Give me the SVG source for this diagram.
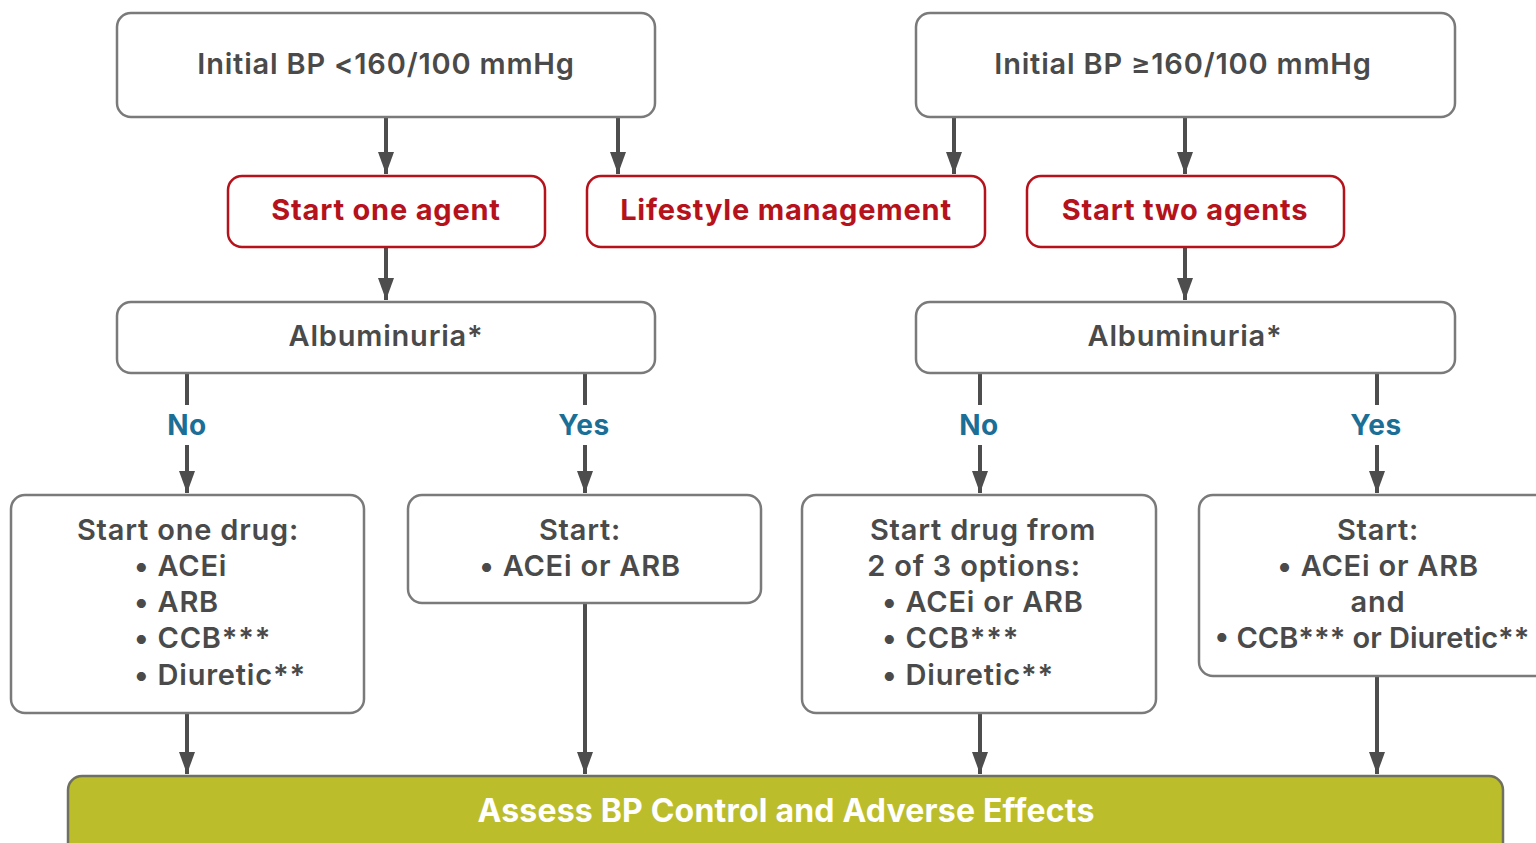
<svg xmlns="http://www.w3.org/2000/svg" width="1536" height="843" viewBox="0 0 1536 843">
<defs>
<marker id="ah" markerWidth="22" markerHeight="16" refX="22" refY="8" orient="auto" markerUnits="userSpaceOnUse" viewBox="0 0 22 16">
<path d="M0,0 L22,8 L0,16 Z" fill="#4d4d4d"/>
</marker>
<style>
.box{fill:#fff;stroke:#7a7a7a;stroke-width:2.5}
.rbox{fill:#fff;stroke:#b5121b;stroke-width:2.5}
.t{font-family:Inter,"Open Sans",sans-serif;font-weight:600;font-size:29px;letter-spacing:0.8px;fill:#4a4a4a;text-anchor:middle}
.s{text-anchor:start}
.n{letter-spacing:0px}
.r{font-family:Inter,"Open Sans",sans-serif;font-weight:700;font-size:29px;letter-spacing:0.8px;fill:#b5121b;text-anchor:middle}
.b{font-family:Inter,"Open Sans",sans-serif;font-weight:700;font-size:28px;letter-spacing:0.5px;fill:#1b6f96;text-anchor:middle}
.w{font-family:Inter,"Open Sans",sans-serif;font-weight:700;font-size:32px;letter-spacing:0.2px;fill:#fff;text-anchor:middle}
.c{stroke:#4d4d4d;stroke-width:4;fill:none}
</style>
</defs>
<rect width="1536" height="843" fill="#fff"/>
<g id="connectors">
<path class="c" d="M386,117 V174" marker-end="url(#ah)"/>
<path class="c" d="M618,117 V174" marker-end="url(#ah)"/>
<path class="c" d="M954,117 V174" marker-end="url(#ah)"/>
<path class="c" d="M1185,117 V174" marker-end="url(#ah)"/>
<path class="c" d="M386,247 V300" marker-end="url(#ah)"/>
<path class="c" d="M1185,247 V300" marker-end="url(#ah)"/>
<path class="c" d="M187,373 V405"/>
<path class="c" d="M187,445 V493" marker-end="url(#ah)"/>
<path class="c" d="M585,373 V405"/>
<path class="c" d="M585,445 V493" marker-end="url(#ah)"/>
<path class="c" d="M980,373 V405"/>
<path class="c" d="M980,445 V493" marker-end="url(#ah)"/>
<path class="c" d="M1377,373 V405"/>
<path class="c" d="M1377,445 V493" marker-end="url(#ah)"/>
<path class="c" d="M187,713 V774" marker-end="url(#ah)"/>
<path class="c" d="M585,603 V774" marker-end="url(#ah)"/>
<path class="c" d="M980,713 V774" marker-end="url(#ah)"/>
<path class="c" d="M1377,676 V774" marker-end="url(#ah)"/>
<text class="b" x="187" y="435">No</text>
<text class="b" x="584" y="435">Yes</text>
<text class="b" x="979" y="435">No</text>
<text class="b" x="1376" y="435">Yes</text>
</g>
<g id="top-left"><rect class="box" x="117" y="13" width="538" height="104" rx="14"/><text class="t" x="386" y="74">Initial BP &lt;160/100 mmHg</text></g>
<g id="top-right"><rect class="box" x="916" y="13" width="539" height="104" rx="14"/><text class="t" x="1183" y="74">Initial BP ≥160/100 mmHg</text></g>
<g id="start-one"><rect class="rbox" x="228" y="176" width="317" height="71" rx="14"/><text class="r" x="386" y="220">Start one agent</text></g>
<g id="lifestyle"><rect class="rbox" x="587" y="176" width="398" height="71" rx="14"/><text class="r" x="786" y="220">Lifestyle management</text></g>
<g id="start-two"><rect class="rbox" x="1027" y="176" width="317" height="71" rx="14"/><text class="r" x="1185" y="220">Start two agents</text></g>
<g id="alb-left"><rect class="box" x="117" y="302" width="538" height="71" rx="14"/><text class="t" x="386" y="346">Albuminuria*</text></g>
<g id="alb-right"><rect class="box" x="916" y="302" width="539" height="71" rx="14"/><text class="t" x="1185" y="346">Albuminuria*</text></g>
<g id="drug-one"><rect class="box" x="11" y="495" width="353" height="218" rx="14"/>
<text class="t" x="188" y="540">Start one drug:</text>
<text class="t s" x="134" y="576">• ACEi</text>
<text class="t s" x="134" y="612">• ARB</text>
<text class="t s" x="134" y="648">• CCB***</text>
<text class="t s" x="134" y="685">• Diuretic**</text></g>
<g id="acei-arb"><rect class="box" x="408" y="495" width="353" height="108" rx="14"/>
<text class="t" x="580" y="540">Start:</text>
<text class="t" x="580" y="576">• ACEi or ARB</text></g>
<g id="drug-two"><rect class="box" x="802" y="495" width="354" height="218" rx="14"/>
<text class="t" x="983" y="540">Start drug from</text>
<text class="t" x="974" y="576">2 of 3 options:</text>
<text class="t s" x="882" y="612">• ACEi or ARB</text>
<text class="t s" x="882" y="648">• CCB***</text>
<text class="t s" x="882" y="685">• Diuretic**</text></g>
<g id="combo"><rect class="box" x="1199" y="495" width="350" height="181" rx="14"/>
<text class="t" x="1378" y="540">Start:</text>
<text class="t" x="1378" y="576">• ACEi or ARB</text>
<text class="t" x="1378" y="612">and</text>
<text class="t n" x="1372" y="648">• CCB*** or Diuretic**</text></g>
<g id="assess"><rect x="68" y="776" width="1435" height="90" rx="14" fill="#bcbd2b" stroke="#707060" stroke-width="2.5"/>
<text class="w" x="786" y="822">Assess BP Control and Adverse Effects</text></g>
</svg>
